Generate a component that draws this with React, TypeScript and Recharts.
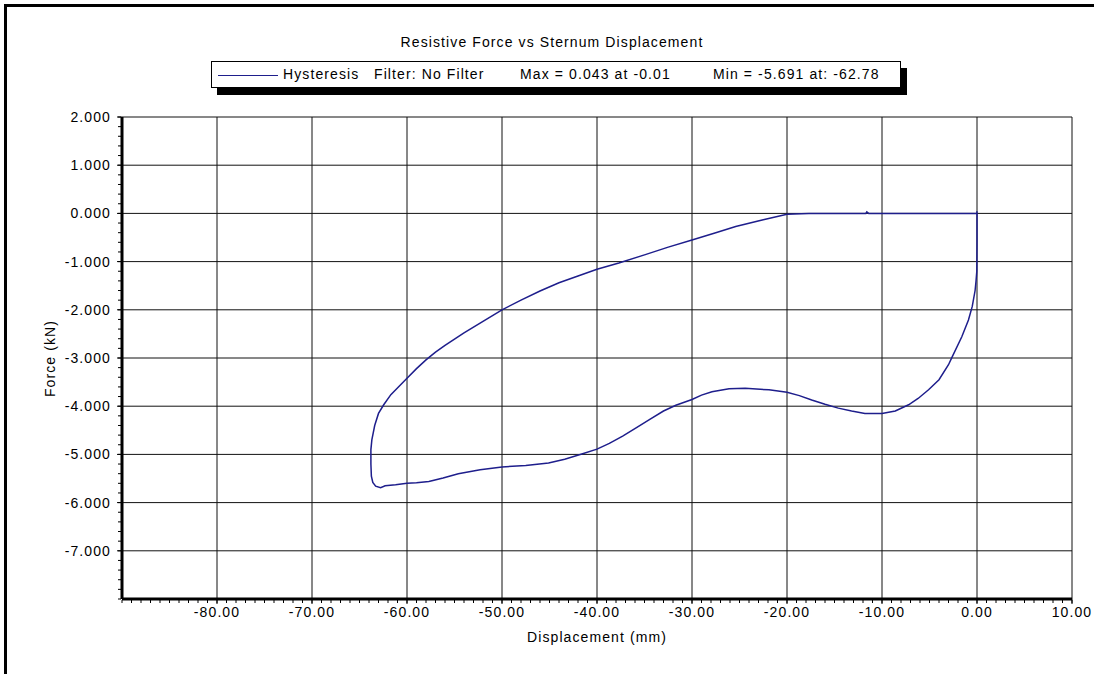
import { LineChart, Line, XAxis, YAxis, CartesianGrid } from 'recharts';

// hysteresis loop, in recorded order (impact at 0, loading, unloading, back along zero)
const displacement = [
  -0.01, 0.0, 0.0, -0.02, -0.1, -0.2, -0.5, -0.9, -1.6, -2.6, -3.0, -4.0, -5.1, -6.2, -7.2, -8.6,
  -10.0, -11.8, -13.2, -14.6, -16.0, -17.4, -18.7, -20.0, -21.9, -24.4, -26.1, -27.9, -29.0, -30.0,
  -31.7, -33.0, -34.4, -35.8, -37.3, -38.7, -40.0, -41.6, -43.4, -45.1, -47.5, -50.0, -52.3,
  -54.6, -56.2, -57.7, -59.0, -60.0, -61.2, -62.3, -62.78, -63.3, -63.6, -63.75, -63.8, -63.8,
  -63.7, -63.4, -63.0, -62.45, -61.7, -60.8, -60.0, -59.0, -58.0, -57.0, -56.0, -54.0, -52.0, -50.0,
  -48.0, -46.0, -44.0, -42.0, -40.0, -37.7, -35.0, -32.5, -30.0, -27.5, -25.4, -22.5, -20.0,
  -17.7, -11.7, -11.6, -11.4, 0.0,
];
const force = [
  0.043, 0.0, -0.6, -1.2, -1.4, -1.6, -1.93, -2.21, -2.56, -2.97, -3.14, -3.45, -3.66, -3.84, -3.97, -4.1,
  -4.15, -4.15, -4.1, -4.04, -3.96, -3.87, -3.78, -3.71, -3.66, -3.63, -3.64, -3.7, -3.77, -3.86,
  -3.98, -4.1, -4.27, -4.44, -4.62, -4.77, -4.89, -4.99, -5.1, -5.18, -5.23, -5.26, -5.32,
  -5.4, -5.49, -5.56, -5.59, -5.6, -5.63, -5.65, -5.691, -5.66, -5.58, -5.45, -5.2, -4.9,
  -4.7, -4.4, -4.15, -3.97, -3.76, -3.58, -3.42, -3.22, -3.04, -2.88, -2.74, -2.48, -2.24, -2.0,
  -1.8, -1.61, -1.44, -1.3, -1.16, -1.03, -0.86, -0.7, -0.55, -0.4, -0.27, -0.13, -0.02,
  0.0, 0.0, 0.03, 0.0, 0.0,
];

const xTicks = [-80, -70, -60, -50, -40, -30, -20, -10, 0, 10];
const yTicks = [2, 1, 0, -1, -2, -3, -4, -5, -6, -7];
const xMinorTicks = Array.from({ length: 101 }, (_, i) => -90 + i);
const yMinorTicks = Array.from({ length: 51 }, (_, i) => -8 + i * 0.2);

const legendItems = [
  { text: 'Hysteresis', left: 71 },
  { text: 'Filter: No Filter', left: 162 },
  { text: 'Max = 0.043 at -0.01', left: 308 },
  { text: 'Min = -5.691 at: -62.78', left: 501 },
];

const data = displacement.map((x, i) => ({ x, force: force[i] }));

const LINE = '#1e1e8c';
const tickStyle = { fill: '#000', fontSize: 14 };

export default function App() {
  return (
    <div
      style={{
        position: 'absolute',
        left: 0,
        top: 0,
        width: 1094,
        height: 674,
        background: '#fff',
        overflow: 'hidden',
        fontFamily: '"Liberation Sans", Arial, sans-serif',
        fontSize: 14,
        letterSpacing: '1.1px',
        color: '#000',
      }}
    >
      {/* frame */}
      <div style={{ position: 'absolute', left: 4, top: 4, right: 0, height: 3, background: '#000' }} />
      <div style={{ position: 'absolute', left: 4, top: 4, bottom: 0, width: 3, background: '#000' }} />

      <div style={{ position: 'absolute', left: 252, top: 34, width: 600, lineHeight: '17px', textAlign: 'center' }}>
        Resistive Force vs Sternum Displacement
      </div>

      <div
        style={{
          position: 'absolute',
          left: 211,
          top: 61,
          width: 690,
          height: 27,
          boxSizing: 'border-box',
          border: '1px solid #000',
          boxShadow: '6px 7px 0 #000',
          background: '#fff',
        }}
      >
        <div style={{ position: 'absolute', left: 6, top: 12.5, width: 60, height: 1.5, background: LINE }} />
        {legendItems.map((it) => (
          <span key={it.text} style={{ position: 'absolute', left: it.left, top: 4, lineHeight: '17px', whiteSpace: 'nowrap' }}>
            {it.text}
          </span>
        ))}
      </div>

      <div
        style={{
          position: 'absolute',
          left: 0,
          top: 350,
          width: 100,
          lineHeight: '17px',
          textAlign: 'center',
          transform: 'rotate(-90deg)',
        }}
      >
        Force (kN)
      </div>
      <div style={{ position: 'absolute', left: 497, top: 629, width: 200, lineHeight: '17px', textAlign: 'center' }}>
        Displacement (mm)
      </div>

      <div style={{ position: 'absolute', left: 0, top: 0 }}>
        <LineChart width={1094} height={674} data={data} margin={{ top: 117, right: 22, bottom: 73, left: 120 }}>
          <CartesianGrid stroke="#111" strokeWidth={1} />
          <XAxis
            dataKey="x"
            type="number"
            domain={[-90, 10]}
            allowDataOverflow
            ticks={xTicks}
            interval={0}
            height={1}
            stroke="#000"
            axisLine={{ stroke: '#000', strokeWidth: 3 }}
            tickSize={5}
            tickMargin={3}
            tick={tickStyle}
            tickFormatter={(v: number) => v.toFixed(2)}
          />
          <XAxis
            xAxisId="minor"
            dataKey="x"
            type="number"
            domain={[-90, 10]}
            allowDataOverflow
            ticks={xMinorTicks}
            interval={0}
            height={1}
            stroke="#000"
            axisLine={false}
            tickSize={3}
            tickFormatter={() => ''}
          />
          <YAxis
            type="number"
            domain={[-8, 2]}
            allowDataOverflow
            ticks={yTicks}
            interval={0}
            width={1}
            stroke="#000"
            axisLine={{ stroke: '#000', strokeWidth: 3 }}
            tickSize={5}
            tickMargin={6}
            tick={tickStyle}
            tickFormatter={(v: number) => v.toFixed(3)}
          />
          <YAxis
            yAxisId="minor"
            type="number"
            domain={[-8, 2]}
            allowDataOverflow
            ticks={yMinorTicks}
            interval={0}
            width={1}
            stroke="#000"
            axisLine={false}
            tickSize={3}
            tickFormatter={() => ''}
          />
          <Line
            type="linear"
            dataKey="force"
            stroke={LINE}
            strokeWidth={1.5}
            dot={false}
            activeDot={false}
            isAnimationActive={false}
          />
        </LineChart>
      </div>
    </div>
  );
}
